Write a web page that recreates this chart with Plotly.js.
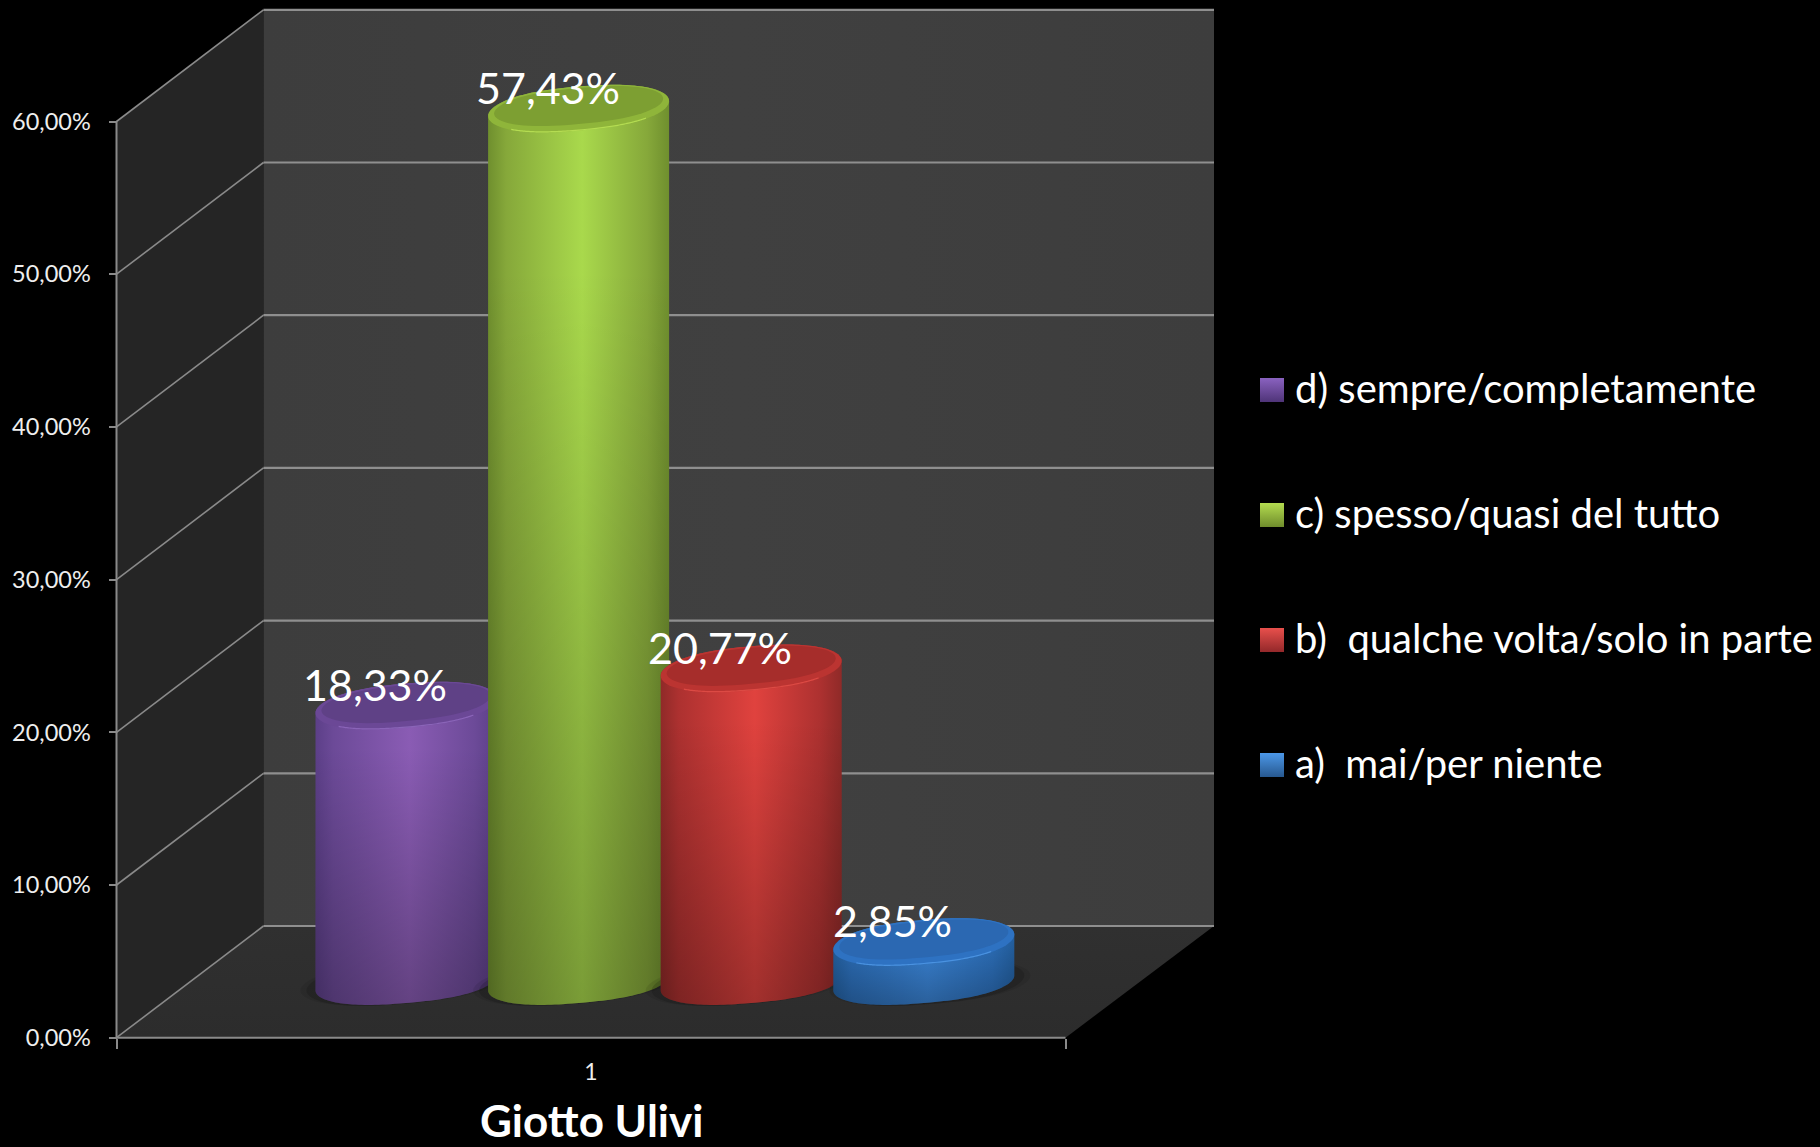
<!DOCTYPE html>
<html><head><meta charset="utf-8">
<script src="https://cdn.plot.ly/plotly-3.0.1.min.js"></script>
<style>html,body{margin:0;padding:0;background:#000}</style></head>
<body><div id="chart" style="width:1820px;height:1147px"></div>
<script>
const seriesNames = ['d) sempre/completamente','c) spesso/quasi del tutto','b)  qualche volta/solo in parte','a)  mai/per niente'];
const seriesValues = [18.33,57.43,20.77,2.85];
const valueLabels = ['18,33%','57,43%','20,77%','2,85%'];
const tickValues = [0,10,20,30,40,50,60];
const tickLabels = ['0,00%','10,00%','20,00%','30,00%','40,00%','50,00%','60,00%'];
const categoryLabel = ['1'];
const axisTitle = 'Giotto Ulivi';
const bodyEdge = ['#5c3f88','#6f8f2e','#8f2a28','#235f9f'];
const bodySide = ['#6c4a98','#86a83a','#ad3130','#2c6eb8'];
const bodyMid = ['#8a5cb4','#a9d94c','#e0423e','#3a84d6'];
const capOuter = ['#6b4896','#8fb53a','#bb3431','#2e72c2'];
const capInner = ['#5f4186','#7d9f32','#a62d2b','#2b68b2'];
const rimLight = ['#8a64b8','#b4dc52','#dc4a44','#4a92e0'];
const swatchTop = ['#8a62c0','#b4dc50','#e8504c','#4c98e8'];
const swatchBot = ['#4f3478','#6f8c2c','#93282a','#27588f'];

const W=1820,H=1147,zeroY=1037.7,unit=15.27;
const FX0=116.5,FX1=1065.5,BX0=263.5,BX1=1214,DY=111.7;
const val=py=>(zeroY-py)/unit;
const depth=DY/unit;
const FONT='Lato, Carlito, sans-serif';
const traces=[];
function poly(xs,ys,grad,color){
  const t={x:xs,y:ys,type:'scatter',mode:'none',fill:'toself',hoverinfo:'skip',showlegend:false};
  if(grad)t.fillgradient=grad; else t.fillcolor=color;
  traces.push(t);
}
function line(xs,ys,color,w){
  traces.push({x:xs,y:ys,type:'scatter',mode:'lines',line:{color:color,width:w,simplify:false},hoverinfo:'skip',showlegend:false});
}
/* slightly squared ellipse: a cylinder end seen in perspective */
function arc(cx,v,a,b,s,t0,t1){
  const xs=[],ys=[];
  const sq=c=>Math.sign(c)*Math.pow(Math.abs(c),0.82);
  for(let i=0;i<=80;i++){
    const t=t0+(t1-t0)*i/80;
    const c=sq(Math.cos(t));
    xs.push(cx+a*c);
    ys.push(v+(s*c+b*Math.sin(t))/unit);
  }
  return [xs,ys];
}
const PI=Math.PI;

/* walls and floor */
poly([FX0,BX0,BX0,FX0,FX0],[60,60+depth,depth,0,60],null,'#252525');
poly([BX0,BX1,BX1,BX0,BX0],[depth,depth,60+depth,60+depth,depth],
  {type:'horizontal',start:BX0,stop:BX1,colorscale:[[0,'#3d3d3d'],[0.5,'#404040'],[1,'#3d3d3d']]});
poly([FX0,BX0,BX1,FX1,FX0],[0,depth,depth,0,0],
  {type:'vertical',start:0,stop:depth,colorscale:[[0,'#2c2c2c'],[1,'#303030']]});
tickValues.forEach(v=>{
  line([FX0,BX0],[v,v+depth],'#8a8a8a',1.6);
  line([BX0,BX1],[v+depth,v+depth],'#8f8f8f',2.2);
});
line([FX0,FX0],[60,0],'#8a8a8a',2);
line([FX0,FX1],[0,0],'#8a8a8a',2);

/* cylinders */
const barBase=val(985.5), floorBase=val(983);
const cx0=406,step=172.6,A=90.5,B=22,S=7.5;
seriesValues.forEach((v,i)=>{
  const cx=cx0+step*i, topV=barBase+v;
  [[A+10,.08],[A+4,.14]].forEach(([a,o])=>{
    const [sx,sy]=arc(cx+(i===3?6:-5),floorBase,a,21,S,0,2*PI);
    poly(sx,sy,null,'rgba(0,0,0,'+o+')');
  });
  const [lx,ly]=arc(cx,floorBase,A,20,S,PI,2*PI);
  const [ux,uy]=arc(cx,topV,A,B,S,0,PI);
  const bx=lx.concat(ux,[lx[0]]),by=ly.concat(uy,[ly[0]]);
  poly(bx,by,{type:'horizontal',start:cx-A,stop:cx+A,colorscale:[[0,bodyEdge[i]],[0.1,bodySide[i]],[0.52,bodyMid[i]],[0.88,bodySide[i]],[1,bodyEdge[i]]]});
  poly(bx,by,{type:'vertical',start:floorBase-1.5,stop:topV+1.5,colorscale:[[0,'rgba(0,0,0,0.28)'],[0.8,'rgba(0,0,0,0)'],[1,'rgba(0,0,0,0)']]});
  const [ox,oy]=arc(cx,topV,A,B,S,0,2*PI);
  poly(ox,oy,null,capOuter[i]);
  const [ix,iy]=arc(cx,topV+2.5/unit,A-6,B-4,S,0,2*PI);
  poly(ix,iy,null,capInner[i]);
  const [fx,fy]=arc(cx,topV,A-1,B-0.5,S,1.25*PI,1.75*PI);
  line(fx,fy,rimLight[i],1.2);
});

/* swatches for the legend */
const legendY=[390,515,640,765].map(val);
seriesNames.forEach((n,i)=>{
  traces.push({x:[1272],y:[legendY[i]],type:'scatter',mode:'markers',name:n,hoverinfo:'skip',showlegend:false,
    marker:{symbol:'square',size:24,color:swatchTop[i],gradient:{type:'vertical',color:swatchBot[i]},line:{width:0}}});
});

const ann=[];
seriesNames.forEach((n,i)=>ann.push({x:1293,y:legendY[i]+2.5/unit,xref:'x',yref:'y',xanchor:'left',yanchor:'middle',text:n,showarrow:false,font:{family:FONT,size:40,color:'#ffffff'}}));
seriesValues.forEach((v,i)=>ann.push({x:cx0+step*i-31,y:barBase+v+21/unit,xref:'x',yref:'y',xanchor:'center',yanchor:'middle',text:valueLabels[i],showarrow:false,font:{family:FONT,size:43,color:'#ffffff'}}));
ann.push({x:591,y:val(1120),xref:'x',yref:'y',xanchor:'center',yanchor:'middle',borderpad:0,text:'<b>'+axisTitle+'</b>',showarrow:false,font:{family:FONT,size:44,color:'#ffffff'}});

Plotly.newPlot('chart',traces,{
  width:W,height:H,margin:{l:0,r:0,t:0,b:0},showlegend:false,hovermode:false,
  paper_bgcolor:'#000',plot_bgcolor:'#000',font:{family:FONT,color:'#eeeeee'},annotations:ann,
  xaxis:{range:[0,W],anchor:'free',position:(H-zeroY)/H,showgrid:false,zeroline:false,showline:false,
    tickmode:'array',tickvals:[591],ticktext:categoryLabel,ticks:'',ticklabelstandoff:18,
    tickfont:{family:FONT,size:23,color:'#eeeeee'},
    minor:{tickmode:'array',tickvals:[FX0,FX1],ticks:'outside',ticklen:10,tickwidth:2,tickcolor:'#8a8a8a',showgrid:false}},
  yaxis:{range:[val(H),val(0)],anchor:'free',position:FX0/W,showgrid:false,zeroline:false,showline:false,
    tickmode:'array',tickvals:tickValues,ticktext:tickLabels,ticks:'outside',ticklen:8,tickwidth:2,tickcolor:'#8a8a8a',
    ticklabelstandoff:13,tickfont:{family:FONT,size:23.5,color:'#eeeeee'}}
},{displayModeBar:false,responsive:false});
</script></body></html>
